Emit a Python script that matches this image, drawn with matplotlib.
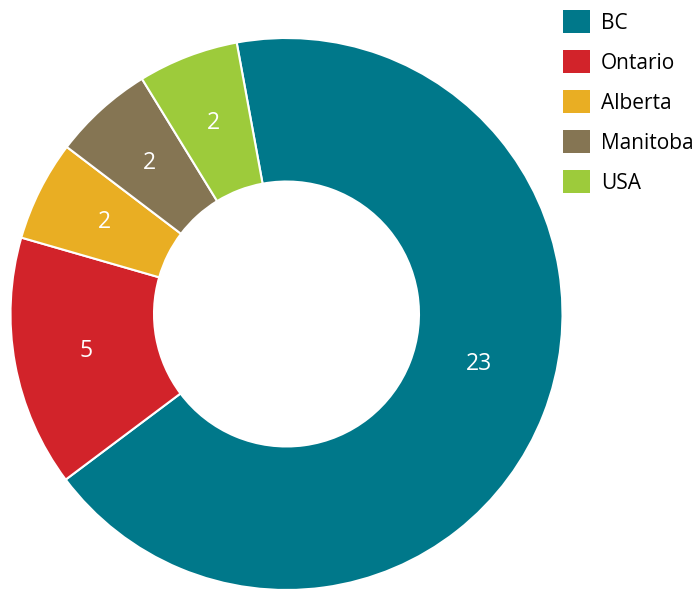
import numpy as np
import matplotlib
matplotlib.use("Agg")
import matplotlib.pyplot as plt
from matplotlib.patches import Patch

categories = ["BC", "Ontario", "Alberta", "Manitoba", "USA"]
values = [23, 5, 2, 2, 2]
colors = ["#00788A", "#D2232A", "#E9AE23", "#857553", "#9DCB3B"]

plt.rcParams['font.family'] = ['Open Sans', 'DejaVu Sans']

W, H = 697, 590
fig = plt.figure(figsize=(W / 100, H / 100), dpi=100)
cx, cy, R = 286.5, 314, 276
ax = fig.add_axes([(cx - R) / W, (H - cy - R) / H, 2 * R / W, 2 * R / H])

wedges, texts, autotexts = ax.pie(
    values, colors=colors, startangle=100.4, counterclock=False,
    radius=1.0, wedgeprops=dict(width=0.52, edgecolor="white", linewidth=1.5),
    autopct=lambda p: f"{round(p * sum(values) / 100):d}", pctdistance=0.74,
    textprops=dict(color="white", fontsize=16.5))
# the large slice's label sits higher in the reference
ang = np.deg2rad(-14.5)
autotexts[0].set_position((0.72 * np.cos(ang), 0.72 * np.sin(ang)))
ax.set_xlim(-1, 1)
ax.set_ylim(-1, 1)
ax.set_aspect("equal")
ax.axis("off")

handles = [Patch(facecolor=c, edgecolor="none") for c in colors]
fig.legend(handles, categories, loc="upper left", bbox_to_anchor=(555 / W, 1 - 2 / H),
           frameon=False, fontsize=15, handlelength=1.3, handleheight=1.3,
           handletextpad=0.5, labelspacing=0.8, borderaxespad=0)

fig.savefig("out.png", dpi=100)
